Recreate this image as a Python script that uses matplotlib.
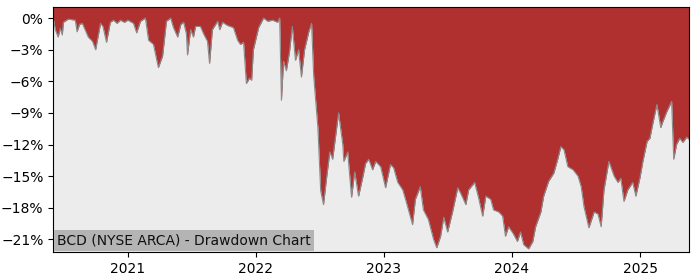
import numpy as np
import pandas as pd
import matplotlib
matplotlib.use("Agg")
from matplotlib import pyplot as plt
import matplotlib.dates as mdates
from matplotlib.ticker import FuncFormatter

title = "BCD (NYSE ARCA) - Drawdown Chart"

# drawdown points (percent)
dates = [
    "2020-06-02", "2020-06-08", "2020-06-16", "2020-06-22", "2020-06-28", "2020-07-01",
    "2020-07-15", "2020-08-04", "2020-08-09", "2020-08-16", "2020-08-24", "2020-09-10",
    "2020-09-22", "2020-10-01", "2020-10-15", "2020-10-22", "2020-11-01", "2020-11-12",
    "2020-11-21", "2020-12-01", "2020-12-11", "2020-12-22", "2021-01-01", "2021-01-17",
    "2021-01-26", "2021-02-06", "2021-02-20", "2021-03-01", "2021-03-15", "2021-03-27",
    "2021-03-29", "2021-04-10", "2021-04-21", "2021-05-03", "2021-05-11", "2021-05-23",
    "2021-06-01", "2021-06-09", "2021-06-17", "2021-06-20", "2021-06-29", "2021-07-07",
    "2021-07-13", "2021-07-27", "2021-08-05", "2021-08-16", "2021-08-22", "2021-08-30",
    "2021-09-14", "2021-09-20", "2021-09-28", "2021-10-12", "2021-10-29", "2021-11-10",
    "2021-11-18", "2021-11-27", "2021-12-05", "2021-12-14", "2021-12-20", "2021-12-25",
    "2022-01-09", "2022-01-23", "2022-02-04", "2022-02-18", "2022-03-04", "2022-03-10",
    "2022-03-15", "2022-03-21", "2022-03-29", "2022-04-07", "2022-04-15", "2022-04-24",
    "2022-05-03", "2022-05-11", "2022-05-20", "2022-06-01", "2022-06-09", "2022-06-15",
    "2022-06-27", "2022-07-05", "2022-07-13", "2022-07-22", "2022-07-31", "2022-08-08",
    "2022-08-17", "2022-08-25", "2022-09-06", "2022-09-09", "2022-09-20", "2022-10-01",
    "2022-10-10", "2022-10-21", "2022-11-02", "2022-11-10", "2022-11-19", "2022-11-30",
    "2022-12-09", "2022-12-23", "2023-01-06", "2023-01-20", "2023-01-29", "2023-02-10",
    "2023-02-24", "2023-03-04", "2023-03-18", "2023-03-24", "2023-04-01", "2023-04-15",
    "2023-04-24", "2023-05-08", "2023-05-23", "2023-06-01", "2023-06-12", "2023-06-21",
    "2023-07-02", "2023-07-16", "2023-07-31", "2023-08-08", "2023-08-23", "2023-08-31",
    "2023-09-17", "2023-09-28", "2023-10-10", "2023-10-19", "2023-11-02", "2023-11-10",
    "2023-11-25", "2023-12-06", "2023-12-14", "2023-12-23", "2024-01-06", "2024-01-17",
    "2024-01-26", "2024-02-04", "2024-02-18", "2024-03-01", "2024-03-09", "2024-03-24",
    "2024-04-01", "2024-04-15", "2024-04-30", "2024-05-11", "2024-05-20", "2024-05-29",
    "2024-06-09", "2024-06-24", "2024-07-08", "2024-07-17", "2024-07-25", "2024-08-08",
    "2024-08-23", "2024-09-03", "2024-09-12", "2024-09-20", "2024-10-04", "2024-10-19",
    "2024-10-30", "2024-11-07", "2024-11-16", "2024-11-27", "2024-12-11", "2024-12-20",
    "2025-01-01", "2025-01-09", "2025-01-21", "2025-01-29", "2025-02-07", "2025-02-18",
    "2025-03-01", "2025-03-06", "2025-03-18", "2025-04-01", "2025-04-07", "2025-04-15",
    "2025-04-24", "2025-05-03", "2025-05-14", "2025-05-20",
]
drawdown = [
    0.0, -1.1, -1.8, -1.0, -1.6, -0.4,
    -0.1, -0.2, -1.3, -0.6, -0.5, -1.8,
    -2.2, -3.0, -0.5, -0.8, -2.3, -0.4,
    -0.2, -0.5, -0.2, -0.4, -0.2, -0.5,
    -1.4, -0.3, 0.0, -2.1, -2.5, -4.4,
    -4.7, -3.6, -0.3, 0.0, -0.9, -1.8,
    -0.6, -0.4, -1.5, -3.5, -1.1, -1.8,
    -0.8, -0.8, -1.5, -2.2, -4.3, -1.1,
    -0.3, -1.1, -0.4, -0.7, -0.9, -2.1,
    -2.5, -2.3, -6.2, -5.7, -5.9, -3.0,
    -0.9, 0.0, -0.3, -0.2, -0.4, 0.0,
    -7.8, -4.1, -5.0, -3.2, -0.8, -4.0,
    -3.0, -5.6, -3.0, -1.3, -0.5, -5.5,
    -10.4, -16.4, -17.7, -15.1, -12.7, -13.4,
    -11.1, -9.0, -12.0, -13.6, -12.7, -17.0,
    -14.6, -16.9, -15.1, -13.8, -13.4, -14.4,
    -13.6, -14.1, -16.1, -13.9, -14.2, -15.6,
    -16.3, -17.2, -18.9, -19.6, -17.2, -16.0,
    -18.2, -19.1, -21.0, -21.8, -20.7, -18.9,
    -20.3, -18.4, -16.1, -16.6, -17.7, -16.3,
    -15.6, -17.0, -18.8, -16.9, -17.2, -18.2,
    -18.4, -18.8, -20.7, -19.8, -20.5, -21.2,
    -20.3, -21.5, -21.9, -21.2, -19.8, -18.4,
    -16.9, -15.5, -14.7, -13.4, -12.2, -12.5,
    -14.1, -14.4, -15.0, -16.0, -17.9, -19.9,
    -18.4, -18.6, -19.8, -16.3, -13.6, -15.0,
    -15.6, -15.2, -17.4, -16.3, -15.6, -16.9,
    -15.1, -13.6, -11.7, -11.4, -9.9, -8.2,
    -10.4, -9.9, -8.9, -7.9, -13.4, -12.0,
    -11.4, -11.8, -11.3, -11.5,
]
y_ticks = [0, -3, -6, -9, -12, -15, -18, -21]

x = pd.to_datetime(dates)
dd = np.array(drawdown)
y_top = 1.05
y_bottom = -22.2

fig = plt.figure(figsize=(7, 2.8), dpi=100)
ax = fig.add_axes([0.076, 0.1, 0.908, 0.875])
ax.set_facecolor('#ececec')

ax.fill_between(x, dd, y_top, color='#b03030', linewidth=0)
ax.plot(x, dd, color='#8a8a8a', linewidth=0.8)

ax.set_xlim(x[0], x[-1])
ax.set_ylim(y_bottom, y_top)
ax.set_yticks(y_ticks)
ax.yaxis.set_major_formatter(FuncFormatter(lambda v, p: f"{v:.0f}%".replace('-', '\u2212')))
ax.xaxis.set_major_locator(mdates.YearLocator())
ax.xaxis.set_major_formatter(mdates.DateFormatter('%Y'))
ax.tick_params(labelsize=10)

ax.text(0.006, 0.018, title, transform=ax.transAxes, ha='left', va='bottom',
        fontsize=10, color='#111111',
        bbox=dict(facecolor='#b4b4b4', edgecolor='none', pad=2.5))

fig.savefig('out.png', dpi=100)
